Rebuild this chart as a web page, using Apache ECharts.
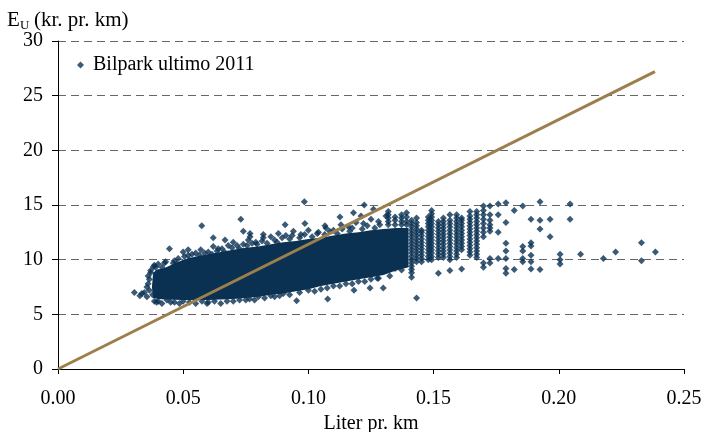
<!DOCTYPE html>
<html><head><meta charset="utf-8">
<script src="https://cdn.jsdelivr.net/npm/echarts@6/dist/echarts.min.js"></script>
<style>html,body{margin:0;padding:0;background:#fff;width:100%;height:100%;overflow:hidden}#c{position:absolute;left:0;top:0;width:706px;height:432px}</style>
</head><body><div id="c"></div>
<script>
const seriesName = 'Bilpark ultimo 2011';
const yAxisTitle = ['E', 'U', '(kr. pr. km)'];
const xAxisTitle = 'Liter pr. km';

// reference line (price per litre)
const lineX = [0, 0.2384];
const lineY = [0, 27.2];

// outline of the solid, densely packed part of the cloud
const coreX = [0.038,0.0375,0.038,0.0395,0.042,0.045,0.050,0.055,0.060,0.065,0.070,0.075,0.080,0.085,0.090,0.095,0.100,0.105,0.110,0.115,0.120,0.125,0.130,0.135,0.140,
               0.140,0.135,0.130,0.125,0.120,0.115,0.110,0.105,0.100,0.095,0.090,0.085,0.080,0.075,0.070,0.060,0.050,0.043,0.040];
const coreY = [6.5,7.5,8.8,9.1,9.2,9.5,10.0,10.3,10.5,10.7,10.9,11.1,11.2,11.4,11.6,11.7,11.9,12.0,12.2,12.4,12.5,12.7,12.8,12.9,12.9,
               9.3,9.0,8.6,8.4,8.2,8.0,7.8,7.6,7.3,7.1,6.9,6.8,6.6,6.5,6.4,6.3,6.3,6.35,6.4];

// loose points around the edges of the cloud
const topEdgePoints = [
  [0.0385,9.5],[0.0415,9.3],[0.0425,9.7],[0.0465,9.9],[0.0475,9.6],[0.0505,10.3],[0.0525,10.0],[0.0535,10.5],
  [0.0565,10.4],[0.0585,10.6],[0.0615,10.5],[0.0635,10.8],[0.0655,11.0],[0.0665,10.7],[0.0695,11.1],[0.0715,11.3],
  [0.0725,11.0],[0.0755,11.3],[0.0775,11.5],[0.0795,11.4],[0.0815,11.7],[0.0835,11.5],[0.0865,11.8],[0.0875,11.6],
  [0.0895,12.0],[0.0925,11.9],[0.0935,12.2],[0.0965,12.0],[0.0985,12.3],[0.1015,12.1],[0.1035,12.4],[0.1065,12.3],
  [0.1085,12.6],[0.1115,12.4],[0.1135,12.8],[0.1165,12.6],[0.1175,12.9],[0.1215,12.8],[0.1235,13.1],[0.1265,12.9],
  [0.1285,13.2],
  [0.040,9.6],[0.043,9.8],[0.046,9.7],[0.048,10.1],[0.052,10.4],[0.055,10.6],[0.057,10.9],[0.060,10.7],
  [0.062,11.2],[0.064,11.0],[0.068,11.3],[0.070,11.6],[0.074,11.4],[0.076,11.8],[0.079,11.6],[0.082,12.0],
  [0.085,12.1],[0.088,12.4],[0.091,12.2],[0.094,12.6],[0.097,12.3],[0.100,12.7],[0.104,12.5],[0.107,12.9],
  [0.110,12.7],[0.113,13.2],[0.116,13.0],[0.119,13.4],[0.122,13.3],[0.125,13.7],[0.128,13.5],[0.131,14.0]
];
const bottomEdgePoints = [
  [0.0385,6.2],[0.0415,6.0],[0.0435,6.3],[0.0465,6.1],[0.0485,6.0],[0.0525,6.1],[0.0575,6.2],[0.0595,6.0],
  [0.0625,6.2],[0.0675,6.2],[0.0725,6.3],[0.0765,6.4],[0.0785,6.3],[0.0825,6.5],[0.0865,6.6],[0.0885,6.7],
  [0.0925,6.8],[0.0965,7.0],[0.1025,7.1],[0.1075,7.4],[0.1125,7.6],[0.1175,7.8],[0.1225,8.0],[0.1275,8.3],
  [0.1325,8.5],
  [0.040,6.2],[0.045,6.1],[0.050,6.2],[0.055,6.0],[0.060,6.1],[0.065,6.0],[0.070,6.2],[0.075,6.3],
  [0.080,6.6],[0.085,6.7],[0.090,6.9],[0.100,7.2],[0.105,7.3],[0.110,7.6],[0.115,7.8],[0.120,8.0],
  [0.125,8.2],[0.128,8.3],
  [0.0365,7.2],[0.0355,7.5],[0.0365,8.2],[0.0370,8.8],[0.0355,6.6],[0.0345,7.0],[0.036,7.8],[0.036,8.5],
  [0.039,9.3],[0.0378,6.8],[0.0394,6.1]
];
const outlierPoints = [
  [0.0305,7.0],[0.0327,6.7],[0.0335,6.9],[0.037,9.0],[0.0381,9.36],[0.0453,9.2],
  [0.0445,11.0],[0.050,10.7],[0.052,10.9],[0.0574,13.1],[0.062,12.0],[0.0667,11.8],[0.073,13.7],
  [0.074,12.6],[0.0767,12.1],[0.0767,12.4],[0.082,12.3],[0.0907,13.2],[0.0986,13.3],[0.0984,15.3],
  [0.1066,13.1],[0.1126,13.9],[0.118,14.3],[0.121,14.0],[0.1223,15.0],[0.126,14.6],
  [0.0953,6.25],[0.1077,6.4],[0.1182,7.2],[0.1246,7.4],[0.1299,7.4],[0.1432,6.5]
];

// vertical stripes of points at the higher consumption values
const colX = [0.1319,0.1346,0.1372,0.1392,0.1412,0.1432,0.1452,0.1479,0.1492,0.1519,0.1539,0.1565,0.1592,0.1612,0.1645,0.1672,
              0.1699,0.1725,0.1758,0.1789,0.1822,0.1856,0.1889,0.1925,0.1965,0.2005,0.2045,0.2087,0.2178,0.2227,0.2330,0.2386];
const colY = [
  [13.2,13.5,13.8,14.1,14.4],
  [9.2,13.2,13.6,13.9],
  [9.05,13.2,13.5,13.8,14.1],
  [13.2,13.5,13.9,14.3],
  [8.4,8.8,9.1,9.4,9.7,10.0,10.3,10.6,10.9,11.2,11.5,11.8,12.1,12.4,12.7,13.0,13.3,13.6],
  [9.8,10.1,10.4,10.7,11.0,11.3,11.6,11.9,12.2,12.5,12.8,13.1,13.4,13.8],
  [9.8,10.1,10.4,10.7,11.0,11.3,11.6,11.9,12.2,12.5,12.7],
  [10.0,10.3,10.6,10.9,11.2,11.5,11.8,12.1,12.4,12.7,13.0,13.3,13.6,13.9],
  [10.0,10.3,10.6,10.9,11.2,11.5,11.8,12.1,12.4,12.7,13.0,13.3,13.6,13.9,14.2,14.5],
  [8.75,10.2,10.5,10.8,11.1,11.4,11.7,12.0,12.3,12.6,12.9,13.2,13.5],
  [10.2,10.5,10.8,11.1,11.4,11.7,12.0,12.3,12.6,12.9,13.2,13.5,13.8],
  [9.0,10.0,10.3,10.6,10.9,11.2,11.5,11.8,12.1,12.4,12.7,13.0,13.3,13.6,14.1],
  [10.2,10.5,10.8,11.1,11.4,11.7,12.0,12.3,12.6,12.9,13.2,13.5,13.8,14.1],
  [9.15,10.9,11.2,11.5,11.8,12.1,12.4,12.7,13.0,13.3,13.6,13.8],
  [10.4,10.7,11.0,11.3,11.6,11.9,12.2,12.5,12.8,13.1,13.4,13.7,14.0,14.4],
  [10.2,10.5,10.8,11.1,11.4,11.7,12.0,12.3,12.6,12.9,13.2,13.5,13.8,14.1,14.4],
  [9.3,9.7,12.1,12.5,12.9,13.3,13.7,14.1,14.5,14.9],
  [9.7,10.1,12.6,12.9,13.2,13.6,14.1,14.9],
  [10.1,12.5,14.1,15.1],
  [8.75,9.2,10.1,10.8,11.5,13.4,15.2],
  [9.1,14.5],
  [9.8,10.1,10.8,11.2,14.9],
  [9.15,9.8,10.4,11.25,11.55,13.7],
  [9.1,12.8,13.6,15.3],
  [12.1,13.7],
  [9.6,10.0,10.5],
  [13.7,15.1],
  [10.5],
  [10.1],
  [10.7],
  [9.9,11.55],
  [10.7]
];

const navy = '#0a3152';
const gold = '#9c7f4c';
const FONT = 'Liberation Serif';

const scatterData = topEdgePoints.concat(bottomEdgePoints, outlierPoints);
colX.forEach((x, i) => colY[i].forEach(y => scatterData.push([x, y])));

const chart = echarts.init(document.getElementById('c'), null, {renderer: 'canvas'});
chart.setOption({
  animation: false,
  backgroundColor: '#fff',
  textStyle: {fontFamily: FONT, color: '#000'},
  grid: {left: 58, right: 22, top: 41, bottom: 63, containLabel: false, outerBoundsMode: 'none'},
  graphic: [
    {type: 'text', left: 7, top: 10, style: {text: yAxisTitle[0], fontSize: 21, fontFamily: FONT, fill: '#000'}},
    {type: 'text', left: 20, top: 19, style: {text: yAxisTitle[1], fontSize: 13, fontFamily: FONT, fill: '#000'}},
    {type: 'text', left: 34, top: 10, style: {text: yAxisTitle[2], fontSize: 21, fontFamily: FONT, fill: '#000'}}
  ],
  legend: {
    left: 72, top: 50,
    itemWidth: 7, itemHeight: 7, itemGap: 10,
    data: [{name: seriesName, icon: 'diamond'}],
    textStyle: {fontFamily: FONT, fontSize: 20, color: '#000', padding: [0, 0, 0, 4]}
  },
  xAxis: {
    type: 'value', min: 0, max: 0.25, interval: 0.05,
    name: xAxisTitle, nameLocation: 'middle', nameGap: 41,
    nameTextStyle: {fontFamily: FONT, fontSize: 20, color: '#000'},
    axisLine: {show: true, lineStyle: {color: '#000', width: 1}},
    axisTick: {show: true, length: 5, lineStyle: {color: '#000'}},
    axisLabel: {fontFamily: FONT, fontSize: 20, color: '#000', margin: 20, formatter: v => v.toFixed(2)},
    splitLine: {show: false}
  },
  yAxis: {
    type: 'value', min: 0, max: 30, interval: 5,
    axisLine: {show: true, lineStyle: {color: '#000', width: 1}},
    axisTick: {show: true, length: 6, lineStyle: {color: '#000'}},
    axisLabel: {fontFamily: FONT, fontSize: 20, color: '#000', margin: 15},
    splitLine: {show: true, lineStyle: {color: '#666', type: [8, 5], width: 1}}
  },
  series: [
    {
      type: 'custom', name: 'core', silent: true, z: 2,
      data: [[coreX[0], coreY[0]]],
      renderItem: function (params, api) {
        const pts = coreX.map((x, i) => api.coord([x, coreY[i]]));
        return {type: 'polygon', shape: {points: pts}, style: {fill: navy}};
      }
    },
    {
      type: 'scatter', name: seriesName, z: 3,
      symbol: 'diamond', symbolSize: 7,
      itemStyle: {color: navy},
      data: scatterData
    },
    {
      type: 'line', name: 'line', z: 5, silent: true,
      symbol: 'none',
      lineStyle: {color: gold, width: 3},
      data: lineX.map((x, i) => [x, lineY[i]])
    }
  ]
});
</script>
</body></html>
